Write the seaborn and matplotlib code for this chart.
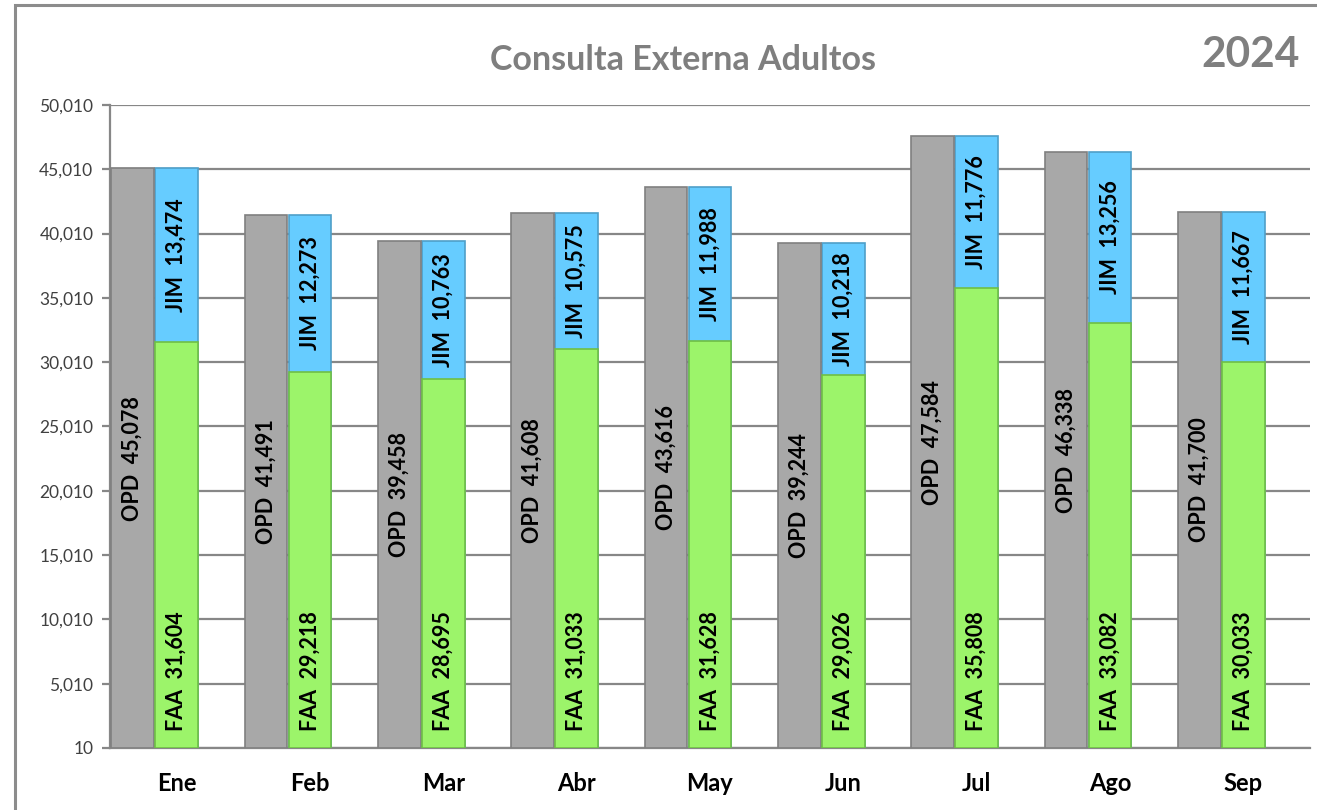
import matplotlib
matplotlib.use("Agg")
import matplotlib.pyplot as plt
import matplotlib.patches as mpatches
import seaborn as sns
import pandas as pd
import numpy as np

months = ["Ene", "Feb", "Mar", "Abr", "May", "Jun", "Jul", "Ago", "Sep"]
opd = [45078, 41491, 39458, 41608, 43616, 39244, 47584, 46338, 41700]
faa = [31604, 29218, 28695, 31033, 31628, 29026, 35808, 33082, 30033]
jim = [13474, 12273, 10763, 10575, 11988, 10218, 11776, 13256, 11667]
yticks = [10, 5010, 10010, 15010, 20010, 25010, 30010, 35010, 40010, 45010, 50010]

sns.set_theme(style="white")
plt.rcParams['font.family'] = ['Lato', 'DejaVu Sans']

GRAY = "#A8A8A8"
BLUE = "#66CCFF"
GREEN = "#9CF46A"
GRID = "#878787"

df = pd.DataFrame({"month": months, "OPD": opd, "FAA": faa, "JIM": jim})
df["TOTAL"] = df["FAA"] + df["JIM"]

fig = plt.figure(figsize=(13.17, 8.10), dpi=100)
ax = fig.add_axes([110/1317, 1-748/810, (1310-110)/1317, (748-105)/810])

W = 0.32
SHIFT = -0.33
sns.barplot(data=df, x="month", y="TOTAL", color=BLUE, width=W, ax=ax,
            edgecolor="#4F9FC8", linewidth=1.2, saturation=1, zorder=3)
n0 = len(ax.patches)
sns.barplot(data=df, x="month", y="FAA", color=GREEN, width=W, ax=ax,
            edgecolor="#6FBF45", linewidth=1.2, saturation=1, zorder=4)
n1 = len(ax.patches)
sns.barplot(data=df, x="month", y="OPD", color=GRAY, width=W, ax=ax,
            edgecolor="#808080", linewidth=1.2, saturation=1, zorder=3)
for p in ax.patches[n1:]:
    p.set_x(p.get_x() + SHIFT)
    p.set_zorder(3)
for p in ax.patches[n0:n1]:
    p.set_zorder(4)

ax.set_ylim(10, 50010)
ax.set_xlim(-0.5, 8.5)
ax.set_yticks(yticks)
ax.set_yticklabels([f"{v:,}" for v in yticks], fontsize=12.5, color="#404040")
ax.set_xlabel("")
ax.set_ylabel("")
ax.yaxis.grid(True, color=GRID, linewidth=1.6, zorder=0)
ax.set_axisbelow(True)

# x ticks: labels at centers, tick marks at boundaries
ax.set_xticks(np.arange(len(months)))
ax.set_xticklabels(months, fontsize=17, fontweight="bold", color="black")
ax.tick_params(axis="x", length=0, pad=17)
ax.set_xticks(np.arange(len(months) + 1) - 0.5, minor=True)
ax.tick_params(axis="x", which="minor", length=7, color=GRID, width=1.6)
ax.tick_params(axis="y", length=6, color=GRID, width=1.6, pad=6, left=True)

for s in ["top", "right"]:
    ax.spines[s].set_visible(False)
for s in ["left", "bottom"]:
    ax.spines[s].set_color(GRID)
    ax.spines[s].set_linewidth(1.6)

# labels
LFS = 15.5
for i in range(len(months)):
    ax.text(i + SHIFT, opd[i] / 2, f"OPD  {opd[i]:,}", rotation=90, ha="center",
            va="center", fontsize=LFS, fontweight="bold", color="black", zorder=6)
    ax.text(i, 1300, f"FAA  {faa[i]:,}", rotation=90, ha="center",
            va="bottom", fontsize=LFS, fontweight="bold", color="black", zorder=6)
    ax.text(i, faa[i] + jim[i] / 2, f"JIM  {jim[i]:,}", rotation=90, ha="center",
            va="center", fontsize=LFS, fontweight="bold", color="black", zorder=6)

fig.text(683/1317, 1-60/810, "Consulta Externa Adultos", ha="center", va="center",
         fontsize=24.5, fontweight="bold", color="#7F7F7F")
fig.text(1300/1317, 1-55/810, "2024", ha="right", va="center",
         fontsize=30.5, fontweight="bold", color="#7F7F7F")

frame = mpatches.Rectangle((15/1317, -0.05), 1.2, 1 - 5/810 + 0.05, transform=fig.transFigure,
                           fill=False, edgecolor="#8C8C8C", linewidth=2.2, zorder=0)
fig.add_artist(frame)

fig.savefig("out.png", dpi=100)
